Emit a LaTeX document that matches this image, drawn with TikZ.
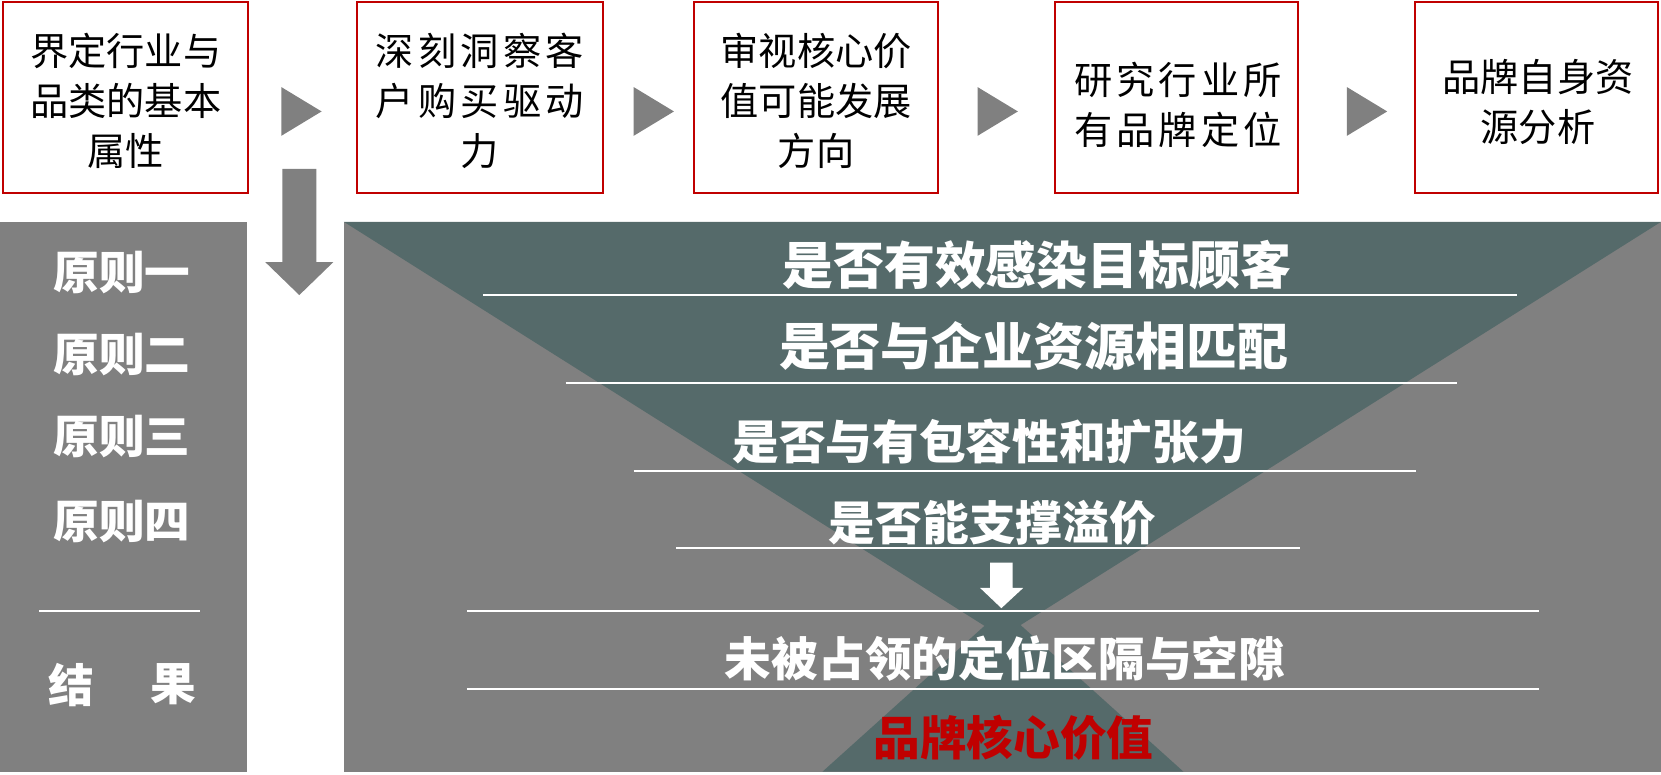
\documentclass[tikz,border=0pt]{standalone}
\usepackage{fontspec}
\newfontfamily\cjk{Noto Sans CJK SC}
\definecolor{bred}{RGB}{192,0,0}
\definecolor{pgray}{RGB}{128,128,128}
\definecolor{teal2}{RGB}{85,106,106}
\tikzset{
  topbox/.style={draw=bred, line width=1pt, fill=white, inner sep=0pt},
  boxtext/.style={inner sep=0pt, align=center, text=black, font=\cjk\fontsize{18}{23.5}\selectfont},
  bigtext/.style={inner sep=0pt, text=white, font=\cjk\bfseries\fontsize{24}{28}\selectfont},
  midtext/.style={inner sep=0pt, text=white, font=\cjk\bfseries\fontsize{22}{26}\selectfont},
  lefttext/.style={inner sep=0pt, text=white, font=\cjk\bfseries\fontsize{21.5}{26}\selectfont},
  wline/.style={draw=white, line width=0.8pt},
  playtri/.style={fill=pgray, draw=none}
}
\begin{document}
\begin{tikzpicture}[x=0.5pt,y=-0.5pt]
\useasboundingbox (0,0) rectangle (1565,730);

% top boxes
\node[topbox, minimum width=115.5pt, minimum height=90pt] (b1) at (118.5,92) {};
\node[topbox, minimum width=116pt, minimum height=90pt] (b2) at (452,92) {};
\node[topbox, minimum width=115pt, minimum height=90pt] (b3) at (769,92) {};
\node[topbox, minimum width=114.5pt, minimum height=90pt] (b4) at (1108.5,92) {};
\node[topbox, minimum width=114.5pt, minimum height=90pt] (b5) at (1447.5,92) {};

\node[boxtext] (t1) at (118.5,95) {界定行业与\\品类的基本\\属性};
\node[boxtext] (t2) at (452,95) {\addfontfeature{LetterSpace=11}深刻洞察客\\\addfontfeature{LetterSpace=11}户购买驱动\\力};
\node[boxtext] (t3) at (769,95) {审视核心价\\值可能发展\\方向};
\node[boxtext] (t4) at (1110,99) {\addfontfeature{LetterSpace=11}研究行业所\\\addfontfeature{LetterSpace=11}有品牌定位};
\node[boxtext] (t5) at (1449,96) {品牌自身资\\源分析};

% play triangles between boxes
\coordinate (p1) at (265,82);
\coordinate (p2) at (597,82);
\coordinate (p3) at (921,82);
\coordinate (p4) at (1269,82);
\foreach \p in {p1,p2,p3,p4}{
  \fill[playtri] (\p) -- ++(38,23) -- ++(-38,23) -- cycle;
}

% panels
\fill[pgray] (0,209) rectangle (233,727);
\fill[pgray] (324,209) rectangle (1565,727);
\fill[teal2] (324,209) -- (1565,209) -- (944,600) -- cycle;
\fill[teal2] (945,574) -- (1115,727) -- (775,727) -- cycle;

% gray down arrow
\fill[pgray] (266,159) -- (298,159) -- (298,247) -- (314,247) -- (282,278) -- (250,247) -- (266,247) -- cycle;

% left panel texts
\node[lefttext] (r1) at (115,257) {原则一};
\node[lefttext] (r2) at (115,334) {原则二};
\node[lefttext] (r3) at (115,411) {原则三};
\node[lefttext] (r4) at (115,491) {原则四};
\coordinate (la) at (37,576);
\coordinate (lb) at (188,576);
\draw[wline] (la) -- (lb);
\node[lefttext] (res1) at (67.5,645) {结};
\node[lefttext] (res2) at (163,645) {果};

% right panel lines
\coordinate (l1a) at (455,278); \coordinate (l1b) at (1429,278);
\coordinate (l2a) at (533,361); \coordinate (l2b) at (1373,361);
\coordinate (l3a) at (597,444); \coordinate (l3b) at (1334,444);
\coordinate (l4a) at (637,516); \coordinate (l4b) at (1225,516);
\coordinate (l5a) at (440,576); \coordinate (l5b) at (1450,576);
\coordinate (l6a) at (440,649); \coordinate (l6b) at (1450,649);
\draw[wline] (l1a) -- (l1b);
\draw[wline] (l2a) -- (l2b);
\draw[wline] (l3a) -- (l3b);
\draw[wline] (l4a) -- (l4b);
\draw[wline] (l5a) -- (l5b);
\draw[wline] (l6a) -- (l6b);

% right panel texts
\node[bigtext] (c1) at (977,250) {是否有效感染目标顾客};
\node[bigtext] (c2) at (974,326) {是否与企业资源相匹配};
\node[midtext] (c3) at (932,416) {是否与有包容性和扩张力};
\node[midtext] (c4) at (935,493) {是否能支撑溢价};
\node[midtext] (c5) at (947,620) {未被占领的定位区隔与空隙};
\node[midtext, text=bred] (c6) at (955,695) {品牌核心价值};

% white down arrow
\fill[white] (933,530) -- (954,530) -- (954,554) -- (964,554) -- (943.5,573) -- (923.5,554) -- (933,554) -- cycle;
\end{tikzpicture}
\end{document}
